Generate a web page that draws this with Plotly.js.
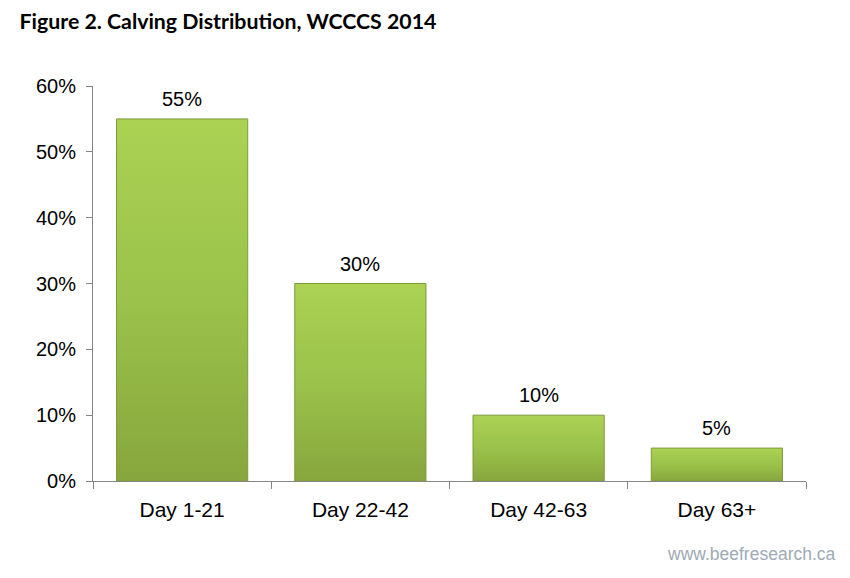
<!DOCTYPE html>
<html><head><meta charset="utf-8">
<script src="https://cdn.plot.ly/plotly-3.0.1.min.js"></script>
<style>body{margin:0;background:#fff}#c{width:850px;height:578px}</style>
</head><body><div id="c"></div>
<script>
var categories = ["Day 1-21", "Day 22-42", "Day 42-63", "Day 63+"];
var values = [0.55, 0.30, 0.10, 0.05];
var labels = ["55%", "30%", "10%", "5%"];
var yTicks = [0, 0.1, 0.2, 0.3, 0.4, 0.5, 0.6];

var FONT = 'Liberation Sans, Arial, sans-serif';
var trace = {
  type: 'bar', x: categories, y: values,
  marker: {color: '#9cc34b', line: {color: '#7d9c3a', width: 1}},
  hoverinfo: 'skip'
};
var dataLabels = categories.map(function (c, i) {
  return {x: c, y: values[i], text: labels[i], xref: 'x', yref: 'y', showarrow: false,
    xanchor: 'center', yanchor: 'bottom', yshift: 7,
    font: {family: FONT, size: 20, color: '#000'}};
});
var layout = {
  width: 850, height: 578,
  margin: {l: 93, r: 44, t: 86, b: 97},
  paper_bgcolor: '#fff', plot_bgcolor: '#fff',
  bargap: 0.264,
  showlegend: false,
  title: {text: '<b>Figure 2. Calving Distribution, WCCCS 2014</b>', x: 0.023, xanchor: 'left', y: 0.962, yanchor: 'middle',
    font: {family: 'Lato, Liberation Sans Narrow, sans-serif', size: 21.3, color: '#000'}},
  xaxis: {showgrid: false, showline: true, linecolor: '#868686', linewidth: 1,
    ticks: 'outside', tickson: 'boundaries', ticklen: 7, tickcolor: '#868686', ticklabelstandoff: 10,
    tickfont: {family: FONT, size: 21, color: '#000'}, fixedrange: true},
  yaxis: {range: [0, 0.6], tickvals: yTicks, tickformat: '.0%', showgrid: false, zeroline: false,
    showline: true, linecolor: '#868686', linewidth: 1, ticks: 'outside', ticklen: 6, tickcolor: '#868686',
    ticklabelstandoff: 6,
    tickfont: {family: FONT, size: 20, color: '#000'}, fixedrange: true},
  annotations: dataLabels.concat([{text: 'www.beefresearch.ca', xref: 'paper', yref: 'paper', x: 1.045, y: -0.185,
    xanchor: 'right', yanchor: 'middle', showarrow: false,
    font: {family: FONT, size: 17.5, color: '#9eaab5'}}])
};
Plotly.newPlot('c', [trace], layout, {displayModeBar: false, staticPlot: true}).then(function (gd) {
  var NS = 'http://www.w3.org/2000/svg';
  var svg = gd.querySelector('svg.main-svg');
  var defs = svg.querySelector('defs') || svg.insertBefore(document.createElementNS(NS, 'defs'), svg.firstChild);
  var g = document.createElementNS(NS, 'linearGradient');
  g.setAttribute('id', 'barGrad'); g.setAttribute('x1', '0'); g.setAttribute('y1', '0');
  g.setAttribute('x2', '0'); g.setAttribute('y2', '1');
  [['0', '#abd253'], ['0.5', '#9bc24a'], ['1', '#87a63d']].forEach(function (s) {
    var st = document.createElementNS(NS, 'stop');
    st.setAttribute('offset', s[0]); st.setAttribute('stop-color', s[1]); g.appendChild(st);
  });
  defs.appendChild(g);
  gd.querySelectorAll('.bars .point path').forEach(function (p) { p.style.fill = 'url(#barGrad)'; });
});
</script></body></html>
